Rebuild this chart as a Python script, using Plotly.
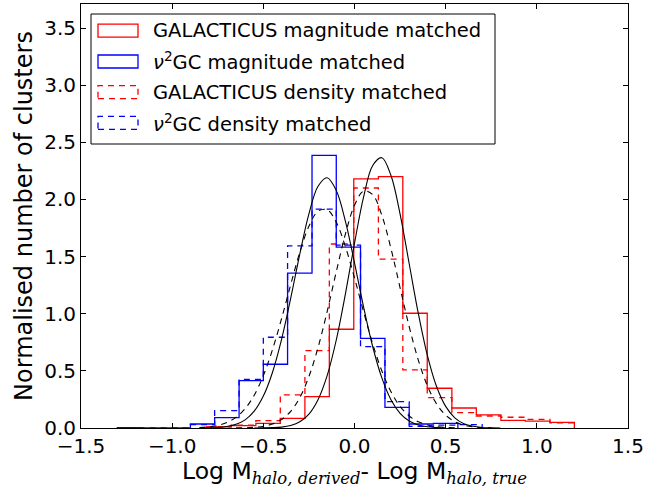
import plotly.graph_objects as go

# ---------------- data ----------------
blue_edges = [-1.300, -1.167, -1.033, -0.900, -0.767, -0.633, -0.500, -0.367,
              -0.233, -0.100, 0.033, 0.167, 0.300, 0.433, 0.567, 0.700]
red_edges = [-0.810, -0.676, -0.541, -0.407, -0.272, -0.138, -0.004, 0.131,
             0.265, 0.399, 0.534, 0.668, 0.803, 0.937, 1.072, 1.206]

# nu^2GC magnitude matched (14 bins, first 15 blue edges)
nu2gc_mag = [0.004, 0.0, 0.0, 0.035, 0.09, 0.414, 0.558, 1.355, 2.385, 1.582,
             0.785, 0.18, 0.035, 0.041]
# nu^2GC density matched (15 bins)
nu2gc_den = [0.004, 0.0, 0.0, 0.03, 0.152, 0.426, 0.794, 1.594, 1.915, 1.60,
             0.712, 0.23, 0.015, 0.025, 0.03]
# GALACTICUS magnitude matched (15 bins)
gal_mag = [0.01, 0.02, 0.041, 0.085, 0.274, 0.864, 2.18, 2.20, 1.004, 0.348,
           0.175, 0.114, 0.066, 0.06, 0.05]
# GALACTICUS density matched (15 bins)
gal_den = [0.01, 0.025, 0.064, 0.289, 0.677, 1.61, 2.10, 1.477, 0.508, 0.266,
           0.134, 0.105, 0.094, 0.076, 0.045]

fitA_x = [-0.85, -0.80, -0.75, -0.70, -0.65, -0.60, -0.55, -0.50, -0.45, -0.40,
          -0.35, -0.30, -0.25, -0.20, -0.15, -0.10, -0.05, 0.00, 0.05, 0.10,
          0.15, 0.20, 0.25, 0.30, 0.35, 0.40, 0.45, 0.50]
fitA_y = [0.0005, 0.002, 0.005, 0.013, 0.032, 0.071, 0.147, 0.279, 0.486, 0.775,
          1.134, 1.522, 1.873, 2.115, 2.19, 2.078, 1.810, 1.445, 1.058, 0.711,
          0.438, 0.247, 0.128, 0.061, 0.027, 0.011, 0.004, 0.001]

fitB_x = [-0.55, -0.50, -0.45, -0.40, -0.35, -0.30, -0.25, -0.20, -0.15, -0.10,
          -0.05, 0.00, 0.05, 0.10, 0.15, 0.20, 0.25, 0.30, 0.35, 0.40,
          0.45, 0.50, 0.55, 0.60, 0.65, 0.70, 0.75, 0.80]
fitB_y = [0.000, 0.001, 0.003, 0.008, 0.022, 0.054, 0.122, 0.248, 0.458, 0.770,
          1.171, 1.616, 2.023, 2.297, 2.365, 2.209, 1.872, 1.437, 1.002, 0.633,
          0.363, 0.189, 0.089, 0.038, 0.015, 0.005, 0.002, 0.000]

fitC_x = [-0.85, -0.80, -0.75, -0.70, -0.65, -0.60, -0.55, -0.50, -0.45, -0.40,
          -0.35, -0.30, -0.25, -0.20, -0.15, -0.10, -0.05, 0.00, 0.05, 0.10,
          0.15, 0.20, 0.25, 0.30, 0.35, 0.40, 0.45, 0.50, 0.55]
fitC_y = [0.004, 0.010, 0.023, 0.048, 0.093, 0.169, 0.287, 0.458, 0.685, 0.957,
          1.254, 1.537, 1.765, 1.897, 1.910, 1.800, 1.588, 1.313, 1.016, 0.736,
          0.499, 0.317, 0.189, 0.105, 0.055, 0.027, 0.012, 0.005, 0.002]

fitD_x = [-0.65, -0.60, -0.55, -0.50, -0.45, -0.40, -0.35, -0.30, -0.25, -0.20,
          -0.15, -0.10, -0.05, 0.00, 0.05, 0.10, 0.15, 0.20, 0.25, 0.30,
          0.35, 0.40, 0.45, 0.50, 0.55, 0.60, 0.65, 0.70, 0.75]
fitD_y = [0.001, 0.002, 0.006, 0.015, 0.035, 0.074, 0.146, 0.266, 0.450, 0.704,
          1.019, 1.367, 1.696, 1.949, 2.073, 2.041, 1.861, 1.570, 1.227, 0.887,
          0.594, 0.368, 0.211, 0.112, 0.055, 0.025, 0.011, 0.004, 0.001]

legend_labels = ["GALACTICUS magnitude matched",
                 "<i>ν</i><sup>2</sup>GC magnitude matched",
                 "GALACTICUS density matched",
                 "<i>ν</i><sup>2</sup>GC density matched"]

x_ticks = [-1.5, -1.0, -0.5, 0.0, 0.5, 1.0, 1.5]
y_ticks = [0.0, 0.5, 1.0, 1.5, 2.0, 2.5, 3.0, 3.5]

# ---------------- figure ----------------
RED = "#ff0000"
BLUE = "#0000ff"
DASH = "6px,5px"
FONT = "DejaVu Sans"


def step_xy(edges, vals):
    xs = [edges[0]] + list(edges[:len(vals) + 1]) + [edges[len(vals)]]
    ys = [0] + list(vals) + [vals[-1], 0]
    return xs, ys


fig = go.Figure()

hists = [(red_edges, gal_mag, RED, "solid"),
         (blue_edges, nu2gc_mag, BLUE, "solid"),
         (red_edges, gal_den, RED, DASH),
         (blue_edges, nu2gc_den, BLUE, DASH)]
for edges, vals, col, dash in hists:
    xs, ys = step_xy(edges, vals)
    fig.add_trace(go.Scatter(x=xs, y=ys, mode="lines", line_shape="hv",
                             line=dict(color=col, width=1.3, dash=dash),
                             showlegend=False, hoverinfo="skip"))

fits = [(fitA_x, fitA_y, "solid"), (fitB_x, fitB_y, "solid"),
        (fitC_x, fitC_y, DASH), (fitD_x, fitD_y, DASH)]
for fx, fy, dash in fits:
    fig.add_trace(go.Scatter(x=fx, y=fy, mode="lines", line_shape="spline",
                             line=dict(color="black", width=1.1, dash=dash),
                             showlegend=False, hoverinfo="skip"))

# ---------------- custom legend (matplotlib-style patches) ----------------
L, R, T, B = 81, 628, 4, 428
W, H = R - L, B - T


def px(xp):
    return (xp - L) / W


def py(yp):
    return (B - yp) / H


shapes = [dict(type="rect", xref="paper", yref="paper",
               x0=px(91), x1=px(495), y0=py(144), y1=py(14),
               line=dict(color="black", width=1), fillcolor="white", layer="above")]
annotations = []
legend_styles = [(RED, "solid"), (BLUE, "solid"), (RED, DASH), (BLUE, DASH)]
row_y = [30.7, 61.5, 92.2, 122.9]
for (col, dash), lab, ry in zip(legend_styles, legend_labels, row_y):
    shapes.append(dict(type="rect", xref="paper", yref="paper",
                       x0=px(98), x1=px(138), y0=py(ry + 6.5), y1=py(ry - 6.5),
                       line=dict(color=col, width=1.3, dash=dash),
                       fillcolor="rgba(0,0,0,0)", layer="above"))
    annotations.append(dict(xref="paper", yref="paper", x=px(151), y=py(ry),
                            xanchor="left", yanchor="middle", showarrow=False,
                            text=lab, font=dict(family=FONT, size=19.5, color="black")))

sub = '<sub><span style="font-family:DejaVu Serif"><i>{}</i></span></sub>'
xtitle = "Log M" + sub.format("halo, derived") + "- Log M" + sub.format("halo, true")

fig.update_layout(
    width=668, height=488,
    margin=dict(l=L, r=668 - R, t=T, b=488 - B),
    paper_bgcolor="white", plot_bgcolor="white",
    font=dict(family=FONT, size=20, color="black"),
    shapes=shapes, annotations=annotations,
    xaxis=dict(range=[-1.5, 1.5], tickvals=x_ticks, tickformat=".1f",
               ticks="inside", ticklen=5, tickcolor="black", mirror="ticks",
               showline=True, linecolor="black", linewidth=1, showgrid=False,
               zeroline=False, tickfont=dict(size=20),
               title=dict(text=xtitle, font=dict(size=23.5), standoff=3)),
    yaxis=dict(range=[0, 3.71], tickvals=y_ticks, tickformat=".1f",
               ticks="inside", ticklen=5, tickcolor="black", mirror="ticks",
               showline=True, linecolor="black", linewidth=1, showgrid=False,
               zeroline=False, tickfont=dict(size=20),
               title=dict(text="Normalised number of clusters", font=dict(size=24),
                          standoff=4)),
)

fig.write_html("out.html")
